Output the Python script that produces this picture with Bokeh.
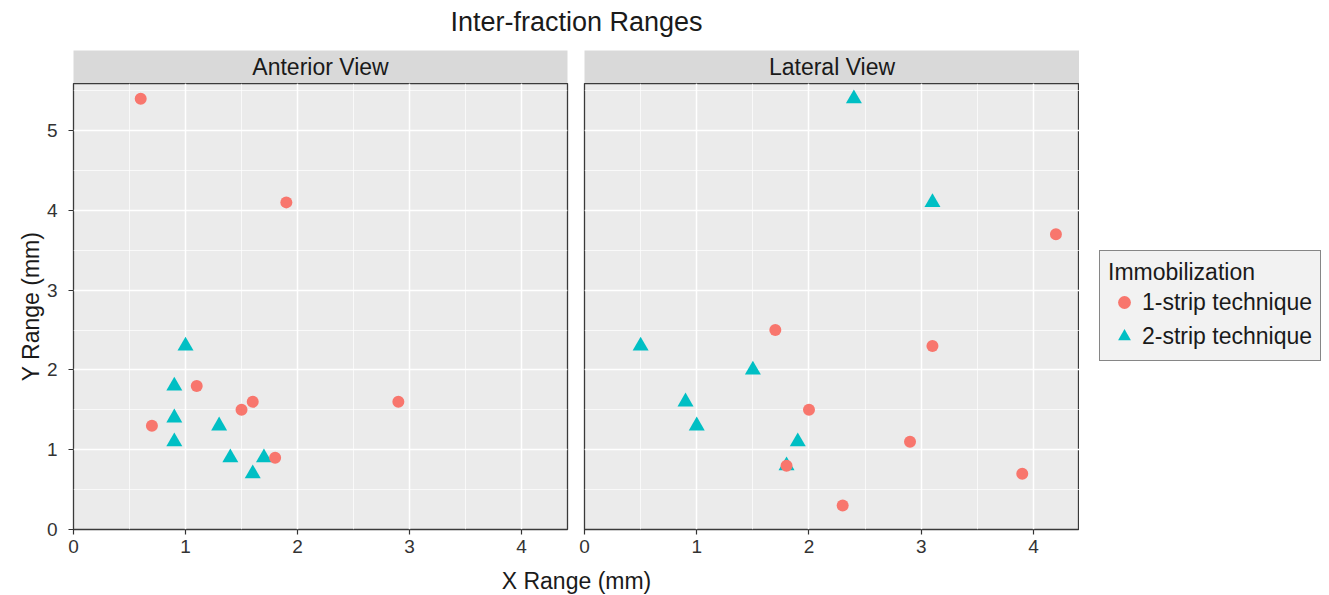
from bokeh.plotting import figure
from bokeh.models import Range1d, SingleIntervalTicker, Legend, LegendItem
from bokeh.layouts import column, row
from bokeh.embed import file_html
from bokeh.resources import INLINE
from bokeh.core.properties import value

FONT = "Liberation Sans"

# ---------------- data ----------------
title_text = "Inter-fraction Ranges"
panel_names = ["Anterior View", "Lateral View"]
x_label = "X Range (mm)"
y_label = "Y Range (mm)"
legend_title = "Immobilization"
groups = ["1-strip technique", "2-strip technique"]
group_colors = ["#F8766D", "#00BFC4"]

ant_1strip_x = [0.6, 1.9, 1.1, 1.5, 1.6, 0.7, 1.8, 2.9]
ant_1strip_y = [5.4, 4.1, 1.8, 1.5, 1.6, 1.3, 0.9, 1.6]
ant_2strip_x = [1.0, 0.9, 0.9, 0.9, 1.3, 1.4, 1.7, 1.6]
ant_2strip_y = [2.3, 1.8, 1.4, 1.1, 1.3, 0.9, 0.9, 0.7]

lat_1strip_x = [4.2, 1.7, 3.1, 2.0, 2.9, 3.9, 1.8, 2.3]
lat_1strip_y = [3.7, 2.5, 2.3, 1.5, 1.1, 0.7, 0.8, 0.3]
lat_2strip_x = [2.4, 3.1, 0.5, 1.5, 0.9, 1.0, 1.9, 1.8]
lat_2strip_y = [5.4, 4.1, 2.3, 2.0, 1.6, 1.3, 1.1, 0.8]

x_limits = (0, 4.41)
y_limits = (0, 5.59)

# ---------------- style ----------------
BG = "#EBEBEB"
STRIP = "#D9D9D9"
BORDER = "#3A3A3A"
TICKC = "#333333"
LEFT = 73
GAP_L = 8
GAP_R = 9
FRAME_W = 494
FRAME_W2 = 495
FRAME_H = 446
BOTTOM = 34
LEG_W = 248
CIRCLE_SIZE = 12
TRI_SIZE = 16
FULL_W = LEFT + FRAME_W + GAP_L + GAP_R + FRAME_W2


def text_fig(width, height, txt, size, ypos, left=0, right=0, bg=None, baseline="middle"):
    f = figure(width=width, height=height, output_backend="svg", toolbar_location=None,
               x_range=Range1d(0, 1), y_range=Range1d(0, 1),
               min_border_left=left, min_border_right=right, min_border_top=0, min_border_bottom=0)
    f.axis.visible = False
    f.grid.visible = False
    f.outline_line_color = None
    if bg:
        f.background_fill_color = bg
    f.text(x=[0.5], y=[ypos], text=[txt], text_font=value(FONT), text_font_size=size,
           text_align="center", text_baseline=baseline, text_color="#1A1A1A")
    return f


def add_points(p, xs1, ys1, xs2, ys2):
    r2 = p.scatter(xs2, ys2, marker="triangle", size=TRI_SIZE, color=group_colors[1], line_color=None)
    r1 = p.scatter(xs1, ys1, marker="circle", size=CIRCLE_SIZE, color=group_colors[0], line_color=None)
    return r1, r2


def panel(xs1, ys1, xs2, ys2, left, right, fw, show_y):
    p = figure(frame_width=fw, frame_height=FRAME_H, output_backend="svg", toolbar_location=None,
               x_range=Range1d(*x_limits), y_range=Range1d(*y_limits),
               min_border_left=left, min_border_right=right, min_border_top=0,
               min_border_bottom=BOTTOM)
    p.background_fill_color = BG
    p.border_fill_color = "white"
    p.outline_line_color = BORDER
    p.outline_line_width = 1.3
    for ax in (p.xaxis, p.yaxis):
        ax.ticker = SingleIntervalTicker(interval=1, num_minor_ticks=2)
        ax.axis_line_color = None
        ax.major_tick_line_color = TICKC
        ax.major_tick_line_width = 1.2
        ax.major_tick_out = 5
        ax.major_tick_in = 0
        ax.minor_tick_line_color = None
        ax.major_label_text_font = FONT
        ax.major_label_text_font_size = "19px"
        ax.major_label_text_color = TICKC
    p.xaxis.major_label_standoff = 5
    p.yaxis.major_label_standoff = 11
    p.xgrid.ticker = p.xaxis[0].ticker
    p.ygrid.ticker = p.yaxis[0].ticker
    for g in (p.xgrid, p.ygrid):
        g.grid_line_color = "white"
        g.grid_line_width = 1.5
        g.minor_grid_line_color = "white"
        g.minor_grid_line_width = 0.7
    if show_y:
        p.yaxis.axis_label = y_label
        p.yaxis.axis_label_text_font = FONT
        p.yaxis.axis_label_text_font_size = "23px"
        p.yaxis.axis_label_text_font_style = "normal"
        p.yaxis.axis_label_text_color = "#1A1A1A"
        p.yaxis.axis_label_standoff = 0
    else:
        p.yaxis.visible = False
    add_points(p, xs1, ys1, xs2, ys2)
    return p


p1 = panel(ant_1strip_x, ant_1strip_y, ant_2strip_x, ant_2strip_y, LEFT, GAP_L, FRAME_W, True)
p2 = panel(lat_1strip_x, lat_1strip_y, lat_2strip_x, lat_2strip_y, GAP_R, 0, FRAME_W2, False)

# legend figure: same series, but its ranges lie away from the data so only the legend shows
lf = figure(width=LEG_W, height=FRAME_H + BOTTOM, output_backend="svg", toolbar_location=None,
            x_range=Range1d(100, 101), y_range=Range1d(100, 101),
            min_border_left=0, min_border_right=0, min_border_top=0, min_border_bottom=0)
lf.axis.visible = False
lf.grid.visible = False
lf.outline_line_color = None
lc, lt = add_points(lf, lat_1strip_x, lat_1strip_y, lat_2strip_x, lat_2strip_y)

legend = Legend(items=[LegendItem(label=groups[0], renderers=[lc]),
                       LegendItem(label=groups[1], renderers=[lt])],
                location=(20, 168), title=legend_title)
legend.title_text_font = FONT
legend.title_text_font_size = "23px"
legend.title_text_font_style = "normal"
legend.title_text_color = "#1A1A1A"
legend.title_standoff = 0
legend.label_text_font = FONT
legend.label_text_font_size = "23px"
legend.label_text_color = "#1A1A1A"
legend.label_height = 32
legend.glyph_height = 32
legend.glyph_width = 32
legend.label_standoff = 2
legend.spacing = 2
legend.padding = 8
legend.margin = 0
legend.border_line_color = "#1A1A1A"
legend.border_line_width = 1.2
legend.background_fill_color = "#F2F2F2"
legend.background_fill_alpha = 1
lf.add_layout(legend, "center")

title_fig = text_fig(FULL_W, 50, title_text, "27px", 0.58, left=LEFT)
s1 = text_fig(LEFT + FRAME_W + GAP_L, 33, panel_names[0], "23px", 0.5, left=LEFT, right=GAP_L, bg=STRIP)
s2 = text_fig(GAP_R + FRAME_W2, 33, panel_names[1], "23px", 0.5, left=GAP_R, right=0, bg=STRIP)
xlab_fig = text_fig(FULL_W, 31, x_label, "23px", 0.03, left=LEFT, baseline="bottom")

layout = column(title_fig, row(s1, s2), row(p1, p2, lf), xlab_fig)

open("out.html", "w").write(file_html(layout, INLINE))
